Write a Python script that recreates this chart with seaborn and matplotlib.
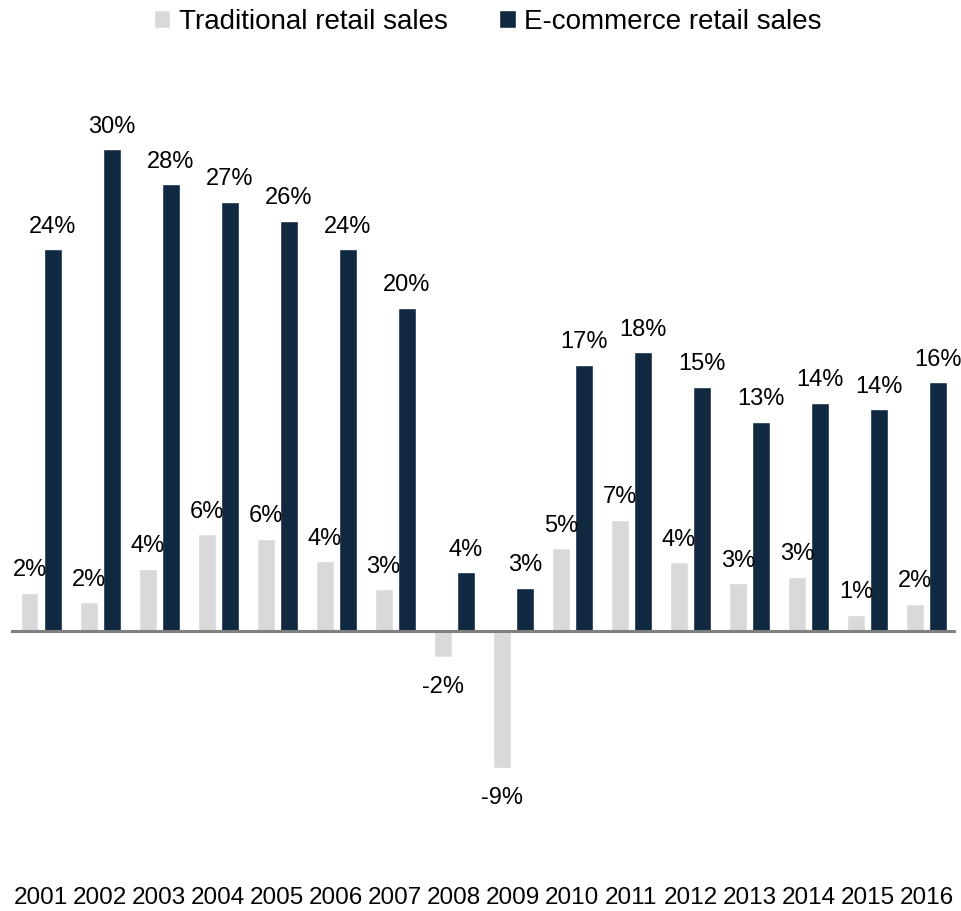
import matplotlib
matplotlib.use("Agg")
import matplotlib.pyplot as plt
import seaborn as sns
import pandas as pd

# Annual growth of US retail sales (%)
years = ["2001", "2002", "2003", "2004", "2005", "2006", "2007", "2008",
         "2009", "2010", "2011", "2012", "2013", "2014", "2015", "2016"]
traditional = [2.4, 1.8, 3.9, 6.1, 5.8, 4.4, 2.6, -1.7,
               -8.7, 5.2, 7.0, 4.3, 3.0, 3.4, 1.0, 1.7]
ecommerce = [24.1, 30.4, 28.2, 27.1, 25.9, 24.1, 20.4, 3.7,
             2.7, 16.8, 17.6, 15.4, 13.2, 14.4, 14.0, 15.7]
series_names = ["Traditional retail sales", "E-commerce retail sales"]
colors = ["#D9D9D9", "#082A48"]

df = pd.DataFrame({
    "year": years * 2,
    "series": [series_names[0]] * len(years) + [series_names[1]] * len(years),
    "growth": traditional + ecommerce,
})

sns.set_theme(style="white")
plt.rcParams["font.family"] = ["Liberation Sans", "DejaVu Sans"]
plt.rcParams["text.color"] = "black"
plt.rcParams["xtick.color"] = "black"

fig = plt.figure(figsize=(9.62, 9.11), dpi=100)
ax = fig.add_axes([0.01195, 0.0993, 0.9818, 0.782])

sns.barplot(data=df, x="year", y="growth", hue="series",
            hue_order=series_names, palette=colors,
            width=0.78, gap=0.22, errorbar=None, ax=ax, legend=True)

ax.set_xlim(-0.5, len(years) - 0.5)
ax.set_ylim(-12, 33)
ax.axhline(0, color="#808080", lw=2.2, zorder=3)

for s in ax.spines.values():
    s.set_visible(False)
ax.set_yticks([])
ax.set_xlabel("")
ax.set_ylabel("")
ax.tick_params(axis="x", length=0, pad=48, labelsize=17.5, labelcolor="black")

label_size = 17
for cont in ax.containers:
    vals = cont.datavalues
    pos = [f"{v:.0f}%" if v >= 0 else "" for v in vals]
    neg = [f"{v:.0f}%" if v < 0 else "" for v in vals]
    ax.bar_label(cont, labels=pos, padding=8.2, fontsize=label_size, color="black")
    if any(neg):
        ax.bar_label(cont, labels=neg, padding=13.5, fontsize=label_size, color="black")

sns.move_legend(ax, "center", bbox_to_anchor=(487.5 / 962, 1 - 22 / 911),
                bbox_transform=fig.transFigure, ncol=2, frameon=False,
                title=None, fontsize=20, handlelength=0.6, handleheight=0.6,
                handletextpad=0.3, columnspacing=1.85, borderaxespad=0,
                labelcolor="black")

fig.savefig("out.png", dpi=100)
